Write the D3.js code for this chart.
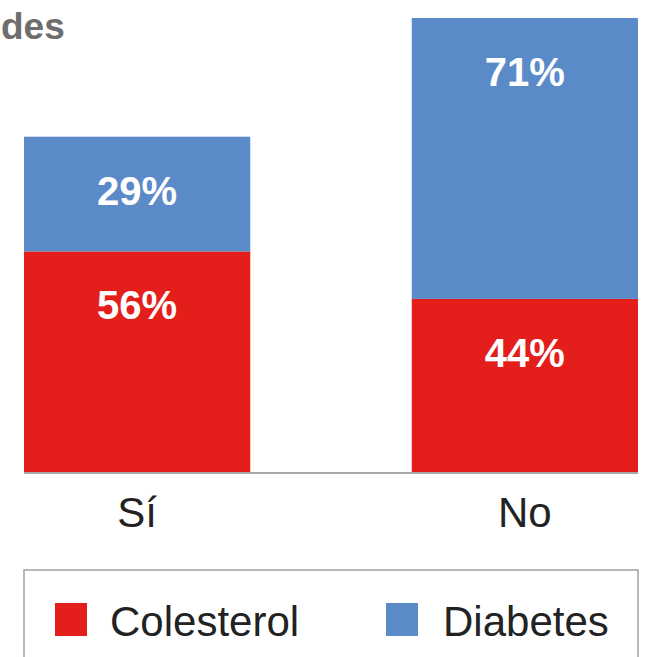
<!DOCTYPE html>
<html>
<head>
<meta charset="utf-8">
<script src="https://cdn.jsdelivr.net/npm/d3@7"></script>
<style>
  html, body { margin: 0; padding: 0; background: #fff; overflow: hidden; }
  svg { display: block; font-family: "Liberation Sans", Arial, sans-serif; }
</style>
</head>
<body>
<svg id="chart" width="651" height="657"></svg>
<script>
/* ── Data ───────────────────────────────────────────────────────────────────── */
const categories = ["Sí", "No"];
const series = ["Colesterol", "Diabetes"];
const colesterol = [56, 44];
const diabetes = [29, 71];
const titleTail = "des"; // only the end of the title is visible

const COLORS = {
  Colesterol: "#e41e1b",
  Diabetes: "#5b8ac8",
};

/* ── Layout ─────────────────────────────────────────────────────────────────── */
const plotLeft = 24, plotRight = 638, plotBase = 473, plotTop = 18;

const svg = d3.select("#chart");

const rows = categories.map((c, i) => ({ cat: c, Colesterol: colesterol[i], Diabetes: diabetes[i] }));
const stacked = d3.stack().keys(series)(rows);
const maxTotal = d3.max(rows, r => r.Colesterol + r.Diabetes);

const x = d3.scaleBand().domain(categories).range([plotLeft, plotRight]).paddingInner(0.4165).paddingOuter(0);
const y = d3.scaleLinear().domain([0, maxTotal]).range([plotBase, plotTop]);

// Title fragment
svg.append("text")
  .attr("x", 1).attr("y", 39)
  .attr("font-size", 37).attr("font-weight", "bold")
  .attr("fill", "#6e6e6e")
  .text(titleTail);

// Bars
const layer = svg.selectAll("g.layer")
  .data(stacked)
  .join("g")
  .attr("class", "layer")
  .attr("fill", d => COLORS[d.key]);

layer.selectAll("rect")
  .data(d => d)
  .join("rect")
  .attr("x", d => x(d.data.cat))
  .attr("width", x.bandwidth())
  .attr("y", d => y(d[1]))
  .attr("height", d => y(d[0]) - y(d[1]));

// Value labels near the top of each segment
layer.selectAll("text")
  .data(d => d.map(s => ({ s, key: d.key })))
  .join("text")
  .attr("x", d => x(d.s.data.cat) + x.bandwidth() / 2)
  .attr("y", d => y(d.s[1]) + 68)
  .attr("text-anchor", "middle")
  .attr("font-size", 40).attr("font-weight", "bold")
  .attr("fill", "#fff")
  .text(d => d.s.data[d.key] + "%");

// Axis
const xAxis = svg.append("g")
  .attr("transform", `translate(0,${plotBase})`)
  .call(d3.axisBottom(x).tickSize(0).tickPadding(54));
xAxis.select(".domain").attr("stroke", "#a8a8a8").attr("stroke-width", 2)
  .attr("d", `M${plotLeft},0H${plotRight}`);
xAxis.selectAll(".tick text")
  .attr("font-size", 42).attr("fill", "#222")
  .attr("font-family", "Liberation Sans, Arial, sans-serif")
  .attr("dy", 0);

// Legend
svg.append("rect")
  .attr("x", plotLeft).attr("y", 570)
  .attr("width", plotRight - plotLeft).attr("height", 120)
  .attr("fill", "none").attr("stroke", "#a0a0a0").attr("stroke-width", 1.5);

const legendX = [55, 386];
const legend = svg.selectAll("g.legend")
  .data(series)
  .join("g")
  .attr("class", "legend")
  .attr("transform", (d, i) => `translate(${legendX[i]},603)`);
legend.append("rect")
  .attr("width", 32).attr("height", 33)
  .attr("fill", d => COLORS[d]);
legend.append("text")
  .attr("x", (d, i) => i === 0 ? 55 : 57)
  .attr("y", 33)
  .attr("font-size", 42).attr("fill", "#222")
  .text(d => d);
</script>
</body>
</html>
